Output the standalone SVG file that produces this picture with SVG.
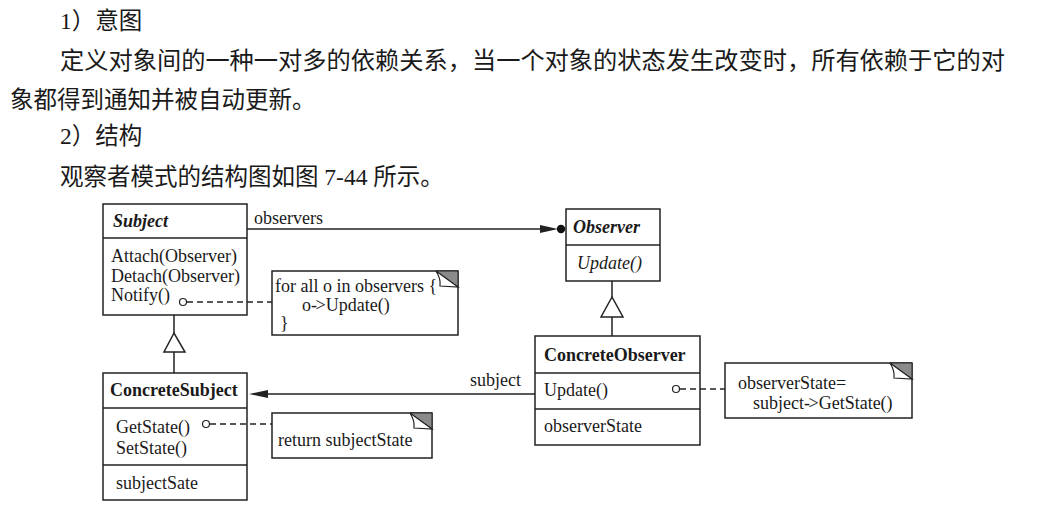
<svg xmlns="http://www.w3.org/2000/svg" width="1054" height="506" viewBox="0 0 1054 506">
  <style>
    .cn { font-family: "Liberation Serif", "Noto Sans CJK SC", serif; font-size: 23.5px; fill: #1a1a1a; }
    .uml { font-family: "Liberation Serif", serif; font-size: 18px; fill: #1a1a1a; }
    .note { font-family: "Liberation Serif", serif; font-size: 18px; fill: #1a1a1a; }
    .box { fill: #fff; stroke: #222; stroke-width: 1.5; }
    .ln { fill: none; stroke: #222; stroke-width: 1.5; }
    .dash { fill: none; stroke: #222; stroke-width: 1.3; stroke-dasharray: 6 4; }
    .pin { fill: #fff; stroke: #222; stroke-width: 1.2; }
    .fold { fill: #8a8a8a; stroke: #222; stroke-width: 1; }
    .flap { fill: #fff; stroke: #222; stroke-width: 1.2; }
    .tri { fill: #fff; stroke: #222; stroke-width: 1.5; }
    .head { fill: #222; stroke: none; }
  </style>

  <!-- intro text -->
  <g id="intro">
    <text class="cn" x="60" y="29">1）意图</text>
    <text class="cn" x="60" y="69" textLength="945" lengthAdjust="spacingAndGlyphs">定义对象间的一种一对多的依赖关系，当一个对象的状态发生改变时，所有依赖于它的对</text>
    <text class="cn" x="10" y="108">象都得到通知并被自动更新。</text>
    <text class="cn" x="60" y="144">2）结构</text>
    <text class="cn" x="60" y="185">观察者模式的结构图如图 7-44 所示。</text>
  </g>

  <!-- Subject -->
  <g id="subject">
    <rect class="box" x="103" y="204" width="144" height="111"/>
    <line class="ln" x1="103" y1="238" x2="247" y2="238"/>
    <text class="uml" x="113" y="227" font-weight="bold" font-style="italic">Subject</text>
    <text class="uml" x="111" y="262">Attach(Observer)</text>
    <text class="uml" x="111" y="282">Detach(Observer)</text>
    <text class="uml" x="111" y="301">Notify()</text>
  </g>

  <!-- Observer -->
  <g id="observer">
    <rect class="box" x="566" y="209" width="94" height="72"/>
    <line class="ln" x1="566" y1="245" x2="660" y2="245"/>
    <text class="uml" x="573" y="233" font-weight="bold" font-style="italic">Observer</text>
    <text class="uml" x="577" y="269" font-style="italic">Update()</text>
  </g>

  <!-- ConcreteSubject -->
  <g id="concrete-subject">
    <rect class="box" x="103" y="373" width="144" height="127"/>
    <line class="ln" x1="103" y1="408" x2="247" y2="408"/>
    <line class="ln" x1="103" y1="465" x2="247" y2="465"/>
    <text class="uml" x="110" y="396" font-weight="bold">ConcreteSubject</text>
    <text class="uml" x="116" y="433">GetState()</text>
    <text class="uml" x="116" y="454">SetState()</text>
    <text class="uml" x="116" y="489">subjectSate</text>
  </g>

  <!-- ConcreteObserver -->
  <g id="concrete-observer">
    <rect class="box" x="535" y="336" width="165" height="109"/>
    <line class="ln" x1="535" y1="373" x2="700" y2="373"/>
    <line class="ln" x1="535" y1="409" x2="700" y2="409"/>
    <text class="uml" x="544" y="361" font-weight="bold">ConcreteObserver</text>
    <text class="uml" x="544" y="396">Update()</text>
    <text class="uml" x="544" y="432">observerState</text>
  </g>

  <!-- note: notify loop -->
  <g id="note-notify">
    <rect class="box" x="272" y="271" width="186" height="64"/>
    <polygon class="fold" points="436,271 458,271 458,287"/>
    <path class="flap" d="M436,271 Q441,279 440,286 L458,287 Z"/>
    <text class="note" x="275" y="292">for all o in observers {</text>
    <text class="note" x="302" y="311">o-<tspan dx="-1.5">&gt;</tspan>Update()</text>
    <text class="note" x="280" y="329">}</text>
  </g>

  <!-- note: getter -->
  <g id="note-getstate">
    <rect class="box" x="272" y="413" width="160" height="45"/>
    <polygon class="fold" points="410,413 432,413 432,429"/>
    <path class="flap" d="M410,413 Q415,421 414,428 L432,429 Z"/>
    <text class="note" x="278" y="446">return subjectState</text>
  </g>

  <!-- note: update -->
  <g id="note-update">
    <rect class="box" x="725" y="363" width="187" height="55"/>
    <polygon class="fold" points="890,363 912,363 912,379"/>
    <path class="flap" d="M890,363 Q895,371 894,378 L912,379 Z"/>
    <text class="note" x="738" y="389">observerState=</text>
    <text class="note" x="753" y="409">subject-<tspan dx="-1.5">&gt;</tspan>GetState()</text>
  </g>

  <!-- connectors, drawn on top of the boxes -->
  <g id="connectors">
    <!-- Subject -> Observer (observers) -->
    <line class="ln" x1="247" y1="229" x2="545" y2="229"/>
    <polygon class="head" points="558,229 540,225 540,233"/>
    <circle cx="561" cy="229" r="4.2" fill="#111"/>
    <text class="uml" x="254" y="224">observers</text>

    <!-- ConcreteObserver -> ConcreteSubject (subject) -->
    <line class="ln" x1="535" y1="394" x2="262" y2="394"/>
    <polygon class="head" points="249,394 268,390 268,398"/>
    <text class="uml" x="470" y="386">subject</text>

    <!-- generalization: ConcreteSubject -> Subject -->
    <line class="ln" x1="174" y1="315" x2="174" y2="333"/>
    <polygon class="tri" points="174,333 164,352 185,352"/>
    <line class="ln" x1="174" y1="352" x2="174" y2="373"/>

    <!-- generalization: ConcreteObserver -> Observer -->
    <line class="ln" x1="612" y1="281" x2="612" y2="297"/>
    <polygon class="tri" points="612,297 601,317 623,317"/>
    <line class="ln" x1="612" y1="317" x2="612" y2="336"/>

    <!-- note anchors -->
    <circle class="pin" cx="183" cy="302" r="3.5"/>
    <line class="dash" x1="187" y1="302" x2="272" y2="302"/>
    <circle class="pin" cx="206" cy="424" r="3.5"/>
    <line class="dash" x1="210" y1="424" x2="272" y2="424"/>
    <circle class="pin" cx="676" cy="389" r="3.5"/>
    <line class="dash" x1="680" y1="389" x2="725" y2="389"/>
  </g>
</svg>
